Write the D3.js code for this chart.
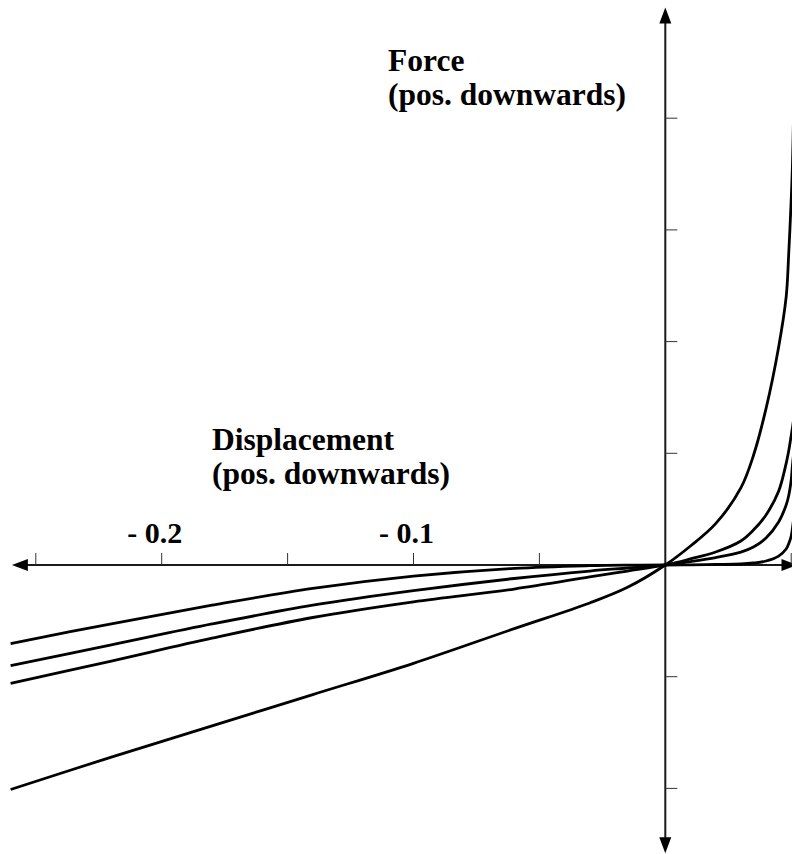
<!DOCTYPE html>
<html>
<head>
<meta charset="utf-8">
<script src="https://cdn.jsdelivr.net/npm/d3@7/dist/d3.min.js"></script>
<style>
  html, body { margin: 0; padding: 0; background: #fff; }
  svg { display: block; }
  text { font-family: "Liberation Serif", "Times New Roman", serif; font-weight: bold; fill: #000; }
</style>
</head>
<body>
<svg id="chart" width="792" height="854"></svg>
<script>
// ---- data (displacement, force) ----
const displacement = [-0.26, -0.22, -0.18, -0.14, -0.10, -0.06, -0.03, -0.015, 0,
                      0.01, 0.02, 0.03, 0.035, 0.04, 0.045, 0.048, 0.049, 0.05, 0.0505, 0.051];
const forceCurve1 = [-2.01, -1.72, -1.44, -1.16, -0.88, -0.57, -0.34, -0.20, 0,
                     0.17, 0.37, 0.69, 0.98, 1.40, 1.95, 2.40, 2.78, 3.27, 3.58, 4.10];
const forceCurve2 = [-1.06, -0.86, -0.655, -0.47, -0.33, -0.215, -0.107, -0.054, 0,
                     0.054, 0.116, 0.215, 0.313, 0.448, 0.66, 0.91, 1.02, 1.16, 1.23, 1.31];
const forceCurve3 = [-0.90, -0.715, -0.528, -0.36, -0.23, -0.121, -0.054, -0.027, 0,
                     0.031, 0.067, 0.116, 0.161, 0.242, 0.385, 0.537, 0.62, 0.76, 0.895, 1.00];
const forceCurve4 = [-0.703, -0.526, -0.36, -0.21, -0.10, -0.03, -0.006, -0.001, 0,
                     0.002, 0.005, 0.009, 0.018, 0.036, 0.08, 0.143, 0.19, 0.26, 0.33, 0.42];
const curves = [forceCurve1, forceCurve2, forceCurve3, forceCurve4];

const xTicks = [-0.25, -0.2, -0.15, -0.1, -0.05, 0.05];
const xTickLabels = [{v: -0.2, t: "- 0.2"}, {v: -0.1, t: "- 0.1"}];
const yTicks = [4, 3, 2, 1, -1, -2];
const xAxisExtent = [-0.2595, 0.0525];
const yAxisExtent = [-2.58, 4.99];

// ---- scales ----
const svg = d3.select("#chart");
const x = d3.scaleLinear().domain([-0.25, 0.05]).range([35.8, 791.2]);
const y = d3.scaleLinear().domain([0, 4]).range([565, 118.2]);
const x0 = x(0), y0 = y(0);

// ---- axes ----
const axisColor = "#1a1a1a";
const arrowLen = 16, arrowHalf = 6;
svg.append("line")
  .attr("x1", x(xAxisExtent[0]) + arrowLen - 2).attr("x2", x(xAxisExtent[1]) - arrowLen + 2)
  .attr("y1", y0).attr("y2", y0)
  .attr("stroke", axisColor).attr("stroke-width", 2);
svg.append("line")
  .attr("x1", x0).attr("x2", x0)
  .attr("y1", y(yAxisExtent[1]) + arrowLen - 2).attr("y2", y(yAxisExtent[0]) - arrowLen + 2)
  .attr("stroke", axisColor).attr("stroke-width", 2);

const xl = x(xAxisExtent[0]), xr = x(xAxisExtent[1]);
const yt = y(yAxisExtent[1]), yb = y(yAxisExtent[0]);
const arrows = [
  [[xl, y0], [xl + arrowLen, y0 - arrowHalf], [xl + arrowLen, y0 + arrowHalf]],
  [[xr, y0], [xr - arrowLen, y0 - arrowHalf], [xr - arrowLen, y0 + arrowHalf]],
  [[x0, yt], [x0 - arrowHalf, yt + arrowLen], [x0 + arrowHalf, yt + arrowLen]],
  [[x0, yb], [x0 - arrowHalf, yb - arrowLen], [x0 + arrowHalf, yb - arrowLen]]
];
svg.selectAll("polygon.arrow").data(arrows).enter().append("polygon")
  .attr("class", "arrow")
  .attr("points", d => d.map(p => p.join(",")).join(" "))
  .attr("fill", "#000");

svg.selectAll("line.xtick").data(xTicks).enter().append("line")
  .attr("class", "xtick")
  .attr("x1", d => x(d)).attr("x2", d => x(d))
  .attr("y1", y0).attr("y2", y0 - 12)
  .attr("stroke", "#333").attr("stroke-width", 1);
svg.selectAll("line.ytick").data(yTicks).enter().append("line")
  .attr("class", "ytick")
  .attr("x1", x0).attr("x2", x0 + 12)
  .attr("y1", d => y(d)).attr("y2", d => y(d))
  .attr("stroke", "#333").attr("stroke-width", 1);

svg.selectAll("text.xlabel").data(xTickLabels).enter().append("text")
  .attr("class", "xlabel")
  .attr("x", d => x(d.v) - 34.5)
  .attr("y", 543)
  .attr("font-size", 30)
  .text(d => d.t);

const forceTitle = svg.append("text").attr("font-size", 31.5);
forceTitle.append("tspan").attr("x", 388).attr("y", 71).text("Force");
forceTitle.append("tspan").attr("x", 388).attr("y", 105).text("(pos. downwards)");

const dispTitle = svg.append("text").attr("font-size", 31.5);
dispTitle.append("tspan").attr("x", 212).attr("y", 450).text("Displacement");
dispTitle.append("tspan").attr("x", 212).attr("y", 484).text("(pos. downwards)");

// ---- curves ----
const line = d3.line()
  .x((d, i) => x(displacement[i]))
  .y(d => y(d))
  .curve(d3.curveCatmullRom.alpha(0.5));

svg.selectAll("path.curve").data(curves).enter().append("path")
  .attr("class", "curve")
  .attr("d", d => line(d))
  .attr("fill", "none")
  .attr("stroke", "#000")
  .attr("stroke-width", 2.8)
  .attr("stroke-linejoin", "round");
</script>
</body>
</html>
